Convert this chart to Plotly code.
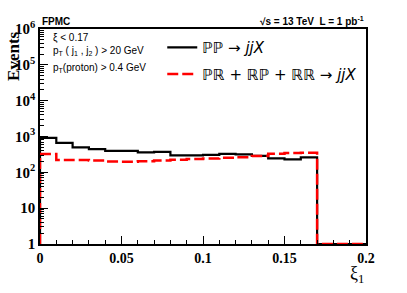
import numpy as np
import plotly.graph_objects as go

# ---- data ----
bin_edges = [round(0.01 * i, 2) for i in range(21)]
pp_counts = [915, 665, 496, 442, 396, 396, 360, 372, 297, 297, 306, 326, 316, 287, 244, 229, 261, 0, 0, 0]
pr_counts = [326, 220, 222, 215, 200, 198, 205, 215, 225, 235, 245, 255, 265, 285, 330, 345, 350, 0, 0, 0]
y_tick_vals = [1, 10, 100, 1e3, 1e4, 1e5, 1e6]
y_tick_text = ["1", "10", "10<sup>2</sup>", "10<sup>3</sup>", "10<sup>4</sup>", "10<sup>5</sup>", "10<sup>6</sup>"]
x_tick_vals = [0, 0.05, 0.1, 0.15, 0.2]
x_tick_text = ["0", "0.05", "0.1", "0.15", "0.2"]

FLOOR = 1.0  # empty bins drawn at the bottom of the log axis


def step_xy(edges, counts):
    vals = [c if c > 0 else FLOOR for c in counts]
    xs = [edges[0]] + list(edges)
    ys = [FLOOR] + vals + [vals[-1]]
    return xs, ys


serif = "Liberation Serif"
sans = "Liberation Sans"

fig = go.Figure()
x1, y1 = step_xy(bin_edges, pp_counts)
fig.add_trace(go.Scatter(
    x=x1, y=y1, mode="lines", line=dict(shape="hv", color="black", width=2.2),
    name="ℙℙ → <i>jjX</i>", legendgroup="a", cliponaxis=False))
x2, y2 = step_xy(bin_edges, pr_counts)
fig.add_trace(go.Scatter(
    x=x2, y=y2, mode="lines", line=dict(shape="hv", color="#ff0000", width=2.5, dash="11px,4px"),
    name="ℙℝ + ℝℙ + ℝℝ → <i>jjX</i>", legendgroup="b", cliponaxis=False))

minor_y = [k * 10 ** d for d in range(0, 6) for k in range(2, 10)]

fig.update_layout(
    width=407, height=293,
    margin=dict(l=40, r=41, t=29, b=49),
    plot_bgcolor="white", paper_bgcolor="white",
    showlegend=True,
    legend=dict(x=0.375, y=0.99, xanchor="left", yanchor="top",
                bgcolor="rgba(0,0,0,0)", font=dict(family="DejaVu Sans", size=15, color="black"),
                tracegroupgap=4, traceorder="grouped"),
    xaxis=dict(range=[0, 0.2], showgrid=False, zeroline=False, automargin=False,
               showline=True, linecolor="black", linewidth=1.5, mirror=True,
               ticks="inside", ticklen=8, tickcolor="black",
               tickmode="array", tickvals=x_tick_vals, ticktext=x_tick_text,
               tickfont=dict(family=serif, size=14, color="black", weight="bold"),
               minor=dict(ticks="inside", ticklen=4, tickcolor="black", dtick=0.01, showgrid=False)),
    yaxis=dict(type="log", range=[0, 6], showgrid=False, zeroline=False, automargin=False,
               showline=True, linecolor="black", linewidth=1.5, mirror=True,
               ticks="inside", ticklen=8, tickcolor="black",
               tickmode="array", tickvals=y_tick_vals, ticktext=y_tick_text,
               tickfont=dict(family=serif, size=15, color="black", weight="bold"),
               minor=dict(ticks="inside", ticklen=4, tickcolor="black",
                          tickmode="array", tickvals=minor_y, showgrid=False)),
)

ann = [
    dict(text="<b>FPMC</b>", x=0.0, y=1.0, xanchor="left", yanchor="bottom", yshift=0,
         font=dict(family=sans, size=10, color="black")),
    dict(text="<b>√s = 13 TeV  L = 1 pb<sup>-1</sup></b>", x=1.0, y=1.0, xanchor="right", yanchor="bottom",
         font=dict(family=sans, size=10, color="black")),
    dict(text="ξ < 0.17", x=0.035, y=0.997, xanchor="left", yanchor="top",
         font=dict(family=sans, size=10, color="black")),
    dict(text="p<sub>T</sub> ( j<sub>1</sub> , j<sub>2</sub> ) > 20 GeV", x=0.035, y=0.935, xanchor="left", yanchor="top",
         font=dict(family=sans, size=10, color="black")),
    dict(text="p<sub>T</sub>(proton) > 0.4 GeV", x=0.035, y=0.858, xanchor="left", yanchor="top",
         font=dict(family=sans, size=10, color="black")),
    dict(text="<b>Events</b>", x=-0.083, y=1.0, xanchor="center", yanchor="top", textangle=-90,
         font=dict(family=serif, size=17, color="black")),
    dict(text="ξ<sub>1</sub>", x=0.972, y=0.0, xanchor="center", yanchor="top", yshift=-17,
         font=dict(family=serif, size=18, color="black")),
]
for a in ann:
    a.update(xref="paper", yref="paper", showarrow=False)
fig.update_layout(annotations=ann)

fig.write_html("out.html", config={"displayModeBar": False},
               post_script="document.body.style.margin='0';document.body.style.padding='0';")
